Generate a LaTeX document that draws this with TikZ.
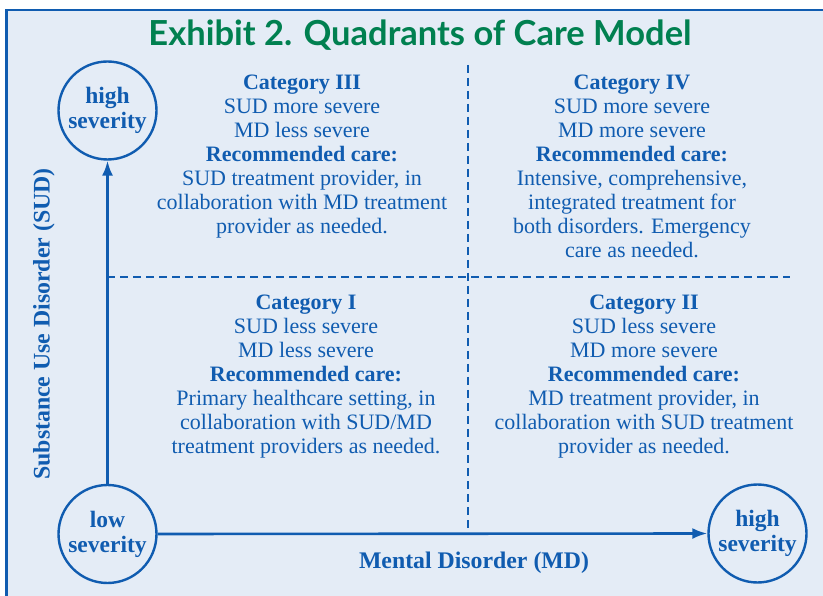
\documentclass[tikz,border=0pt]{standalone}
\usepackage{fontspec}
\setmainfont{Liberation Serif}
\newfontfamily\titlefont{Lato}
\usetikzlibrary{arrows.meta}
\definecolor{bgblue}{RGB}{228,236,246}
\definecolor{ink}{RGB}{16,92,176}
\definecolor{titlegreen}{RGB}{0,128,80}
\tikzset{
  sev/.style={circle, draw=ink, line width=2.4pt, minimum size=98pt, inner sep=0pt, align=center, font=\bfseries\fontsize{23.5}{25}\selectfont, text=ink},
  quad/.style={anchor=north, inner sep=0pt, align=center, text=ink, font=\fontsize{22}{24}\selectfont},
  axis/.style={draw=ink, line width=2.6pt},
  grid/.style={draw=ink, line width=2.4pt, dash pattern=on 8pt off 5pt},
  axlabel/.style={text=ink, font=\bfseries\fontsize{23.8}{26}\selectfont, inner sep=0pt}
}
\begin{document}
\begin{tikzpicture}[x=1pt,y=-1pt]
\useasboundingbox (0,0) rectangle (823,596);
\clip (0,0) rectangle (823,596);
\fill[white] (0,0) rectangle (823,596);
\fill[bgblue] (6.5,10) rectangle (900,700);
\draw[ink, line width=2.8pt] (6.5,10) rectangle (900,700);

\node[text=titlegreen, font=\titlefont\bfseries\fontsize{34.5}{36}\selectfont, inner sep=0pt] (title) at (420,35) {Exhibit 2. Quadrants of Care Model};

% grid lines
\coordinate (vtop) at (468,65);
\coordinate (vbot) at (468,533);
\coordinate (hl) at (107,277);
\coordinate (hr) at (790,277);
\draw[grid] (vtop) -- (vbot);
\draw[grid] (hl) -- (hr);

% circles
\node[sev] (hs) at (107.5,110.5) {high\\severity};
\node[sev] (ls) at (107.5,534) {low\\severity};
\node[sev] (hm) at (757.5,533.5) {high\\severity};

\draw[axis, -{Latex[length=15pt,width=11pt]}] (ls) -- (hs);
\draw[axis, -{Latex[length=15pt,width=11pt]}] (ls.east) -- (hm.west);

% quadrant texts
\node[quad] (q3) at (302,75) {\textbf{Category III}\\SUD more severe\\MD less severe\\\textbf{Recommended care:}\\SUD treatment provider, in\\collaboration with MD treatment\\provider as needed.};
\node[quad] (q4) at (632,75) {\textbf{Category IV}\\SUD more severe\\MD more severe\\\textbf{Recommended care:}\\Intensive, comprehensive,\\integrated treatment for\\both disorders. Emergency\\care as needed.};
\node[quad] (q1) at (306,295) {\textbf{Category I}\\SUD less severe\\MD less severe\\\textbf{Recommended care:}\\Primary healthcare setting, in\\collaboration with SUD/MD\\treatment providers as needed.};
\node[quad] (q2) at (644,295) {\textbf{Category II}\\SUD less severe\\MD more severe\\\textbf{Recommended care:}\\MD treatment provider, in\\collaboration with SUD treatment\\provider as needed.};

% axis labels
\node[axlabel] (xl) at (474,563) {Mental Disorder (MD)};
\node[axlabel, rotate=90] (yl) at (44,324) {Substance Use Disorder (SUD)};
\end{tikzpicture}
\end{document}
